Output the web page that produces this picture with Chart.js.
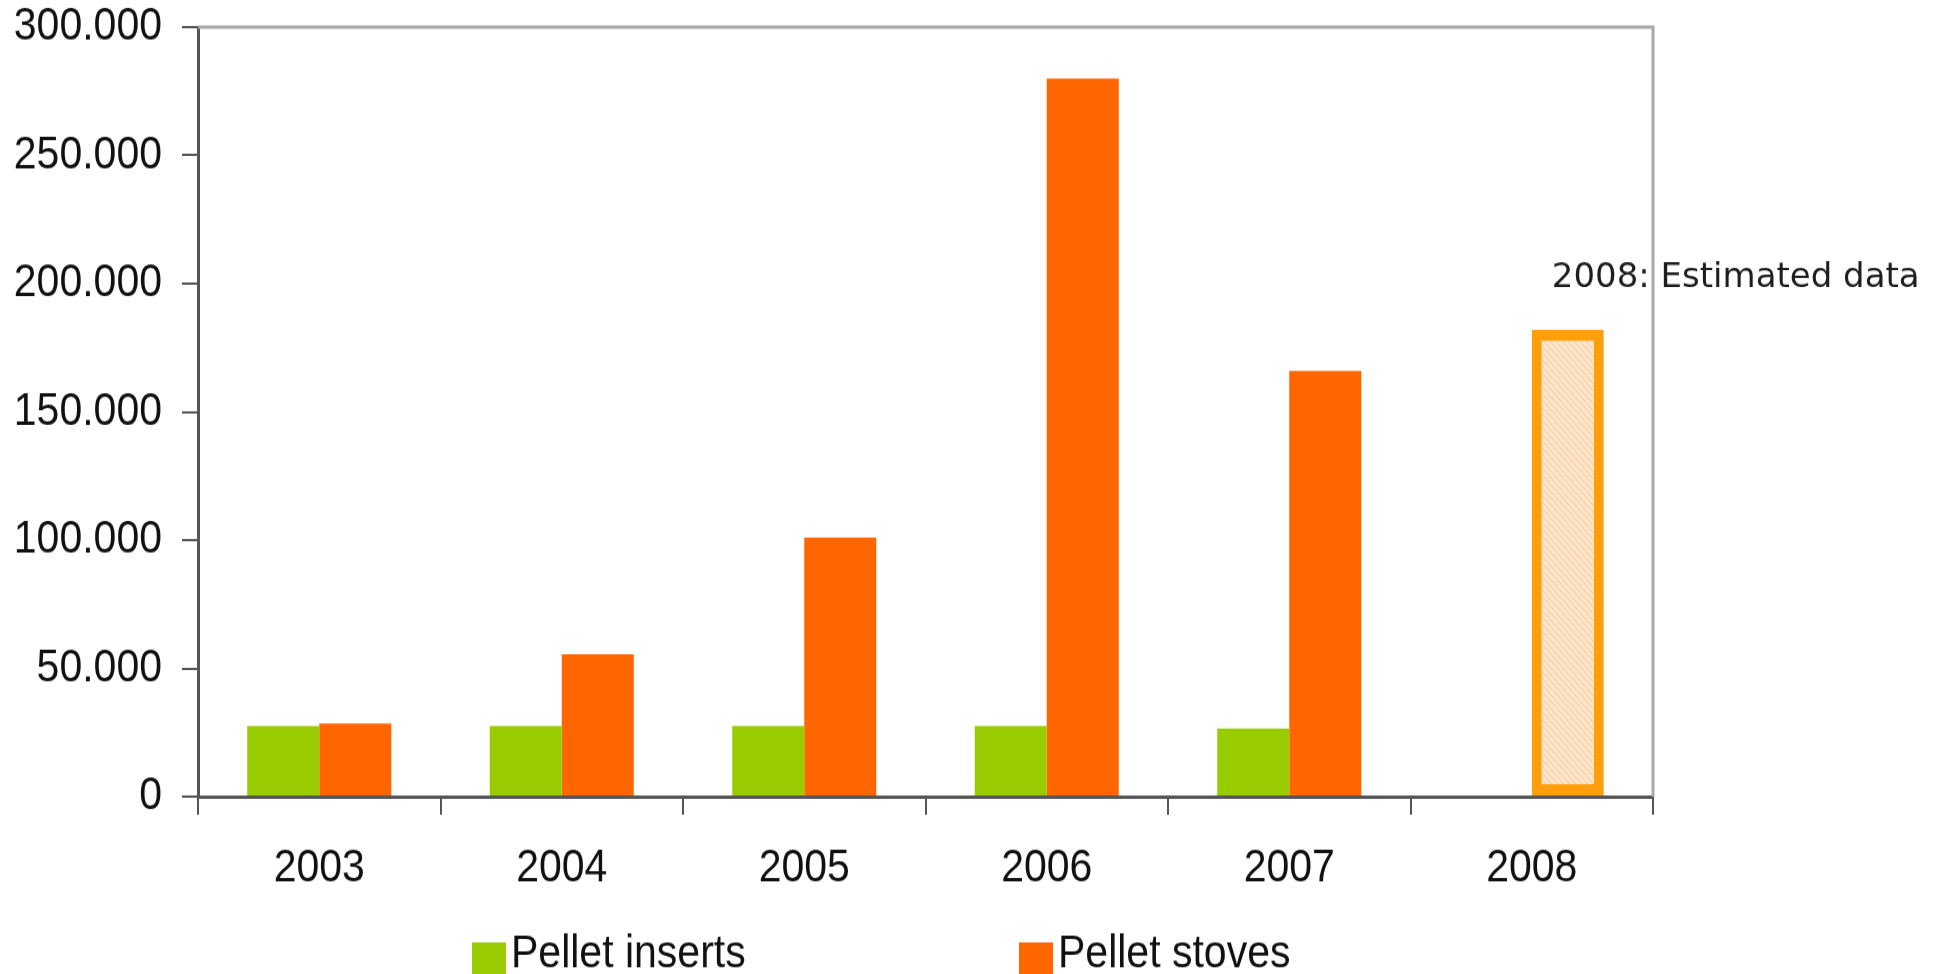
<!DOCTYPE html>
<html>
<head>
<meta charset="utf-8">
<title>Pellet inserts and pellet stoves, 2003–2008</title>
<script src="https://cdn.jsdelivr.net/npm/chart.js@4/dist/chart.umd.min.js"></script>
<style>
  html, body { margin: 0; padding: 0; background: #ffffff; }
  #frame { width: 1933px; height: 974px; overflow: hidden; position: relative; background: #ffffff; }
  /* the chart is drawn a little shorter and stretched to full height */
  #wrap { position: absolute; left: 0; top: 0; width: 1933px; height: 862px;
          transform: scaleY(1.12993); transform-origin: 0 0; }
  canvas { display: block; }
</style>
</head>
<body>
<div id="frame"><div id="wrap"><canvas id="chart" width="1933" height="862"></canvas></div></div>
<script>
// Years on the x axis
const categories = ['2003', '2004', '2005', '2006', '2007', '2008'];
// Units sold per year
const pelletInserts = [27500, 27500, 27500, 27500, 26500, null];
const pelletStoves = [28500, 55500, 101000, 280000, 166000, 182000];
// Value axis ticks
const yTickValues = [0, 50000, 100000, 150000, 200000, 250000, 300000];
// Series names and the note on the estimated year
const seriesNames = ['Pellet inserts', 'Pellet stoves'];
const estimatedNote = '2008: Estimated data';
const estimatedIndex = categories.indexOf('2008');

const STRETCH = 1.12993;
const GREEN = '#99cc00';
const ORANGE = '#ff6600';
const ESTIMATE_BORDER = '#ff9e0d';

// Light diagonal hatching for the estimated bar
function makeHatch() {
  const c = document.createElement('canvas');
  c.width = 6; c.height = 6;
  const g = c.getContext('2d');
  g.fillStyle = '#fde5c9';
  g.fillRect(0, 0, 6, 6);
  g.strokeStyle = '#f3c594';
  g.lineWidth = 1;
  g.beginPath();
  g.moveTo(-1, -1); g.lineTo(7, 7);
  g.moveTo(-1, 5); g.lineTo(1, 7);
  g.moveTo(5, -1); g.lineTo(7, 1);
  g.stroke();
  return g.createPattern(c, 'repeat');
}
const hatch = makeHatch();

const stoveFill = pelletStoves.map((v, i) => i === estimatedIndex ? hatch : ORANGE);
const stoveBorder = pelletStoves.map((v, i) => i === estimatedIndex ? ESTIMATE_BORDER : ORANGE);
const stoveBorderWidth = pelletStoves.map((v, i) => i === estimatedIndex ? 10 : 0);

function formatThousands(v) {
  return String(v).replace(/\B(?=(\d{3})+(?!\d))/g, '.');
}

const ARIAL = '"Liberation Sans", Arial, sans-serif';

// Frame on the top and right of the plot, the estimate note and the legend row
const decorations = {
  id: 'decorations',
  afterDraw(chart) {
    const { ctx, chartArea: a } = chart;
    ctx.save();
    ctx.strokeStyle = '#a9a9a9';
    ctx.lineWidth = 3;
    ctx.beginPath();
    ctx.moveTo(a.left, a.top);
    ctx.lineTo(a.right, a.top);
    ctx.lineTo(a.right, a.bottom);
    ctx.stroke();

    // note above the estimated bar, kept at its natural proportions
    const bar = chart.getDatasetMeta(1).data[estimatedIndex];
    if (bar) {
      ctx.save();
      ctx.translate(bar.x - 16, bar.y - 38);
      ctx.scale(1, 1 / STRETCH);
      ctx.fillStyle = '#1e1e1e';
      ctx.font = '34px "DejaVu Sans", Verdana, sans-serif';
      ctx.textAlign = 'left';
      ctx.textBaseline = 'alphabetic';
      ctx.fillText(estimatedNote, 0, 0);
      ctx.restore();
    }

    // legend
    const colors = [GREEN, ORANGE];
    const offsets = [274, 821];
    const box = 34;
    ctx.font = '41px ' + ARIAL;
    ctx.textBaseline = 'alphabetic';
    ctx.textAlign = 'left';
    seriesNames.forEach((name, i) => {
      const x = a.left + offsets[i];
      ctx.fillStyle = colors[i];
      ctx.fillRect(x, 834, box, box / STRETCH);
      ctx.fillStyle = '#111111';
      ctx.fillText(name, x + box + 5, 856);
    });
    ctx.restore();
  }
};

new Chart(document.getElementById('chart'), {
  type: 'bar',
  data: {
    labels: categories,
    datasets: [
      {
        label: seriesNames[0],
        data: pelletInserts,
        backgroundColor: GREEN,
        borderWidth: 0,
        categoryPercentage: 0.594,
        barPercentage: 1.0
      },
      {
        label: seriesNames[1],
        data: pelletStoves,
        backgroundColor: stoveFill,
        borderColor: stoveBorder,
        borderWidth: stoveBorderWidth,
        borderSkipped: false,
        categoryPercentage: 0.594,
        barPercentage: 1.0
      }
    ]
  },
  options: {
    responsive: false,
    animation: false,
    events: [],
    layout: { padding: { top: 24, right: 280, bottom: 0, left: 0 } },
    plugins: {
      legend: { display: false },
      tooltip: { enabled: false },
      title: { display: false }
    },
    scales: {
      x: {
        grid: {
          offset: true,
          drawOnChartArea: false,
          drawTicks: true,
          tickLength: 16,
          color: '#555555',
          lineWidth: 2
        },
        border: { display: true, color: '#555555', width: 3 },
        ticks: {
          color: '#111111',
          font: { family: ARIAL, size: 41 },
          padding: 23,
          maxRotation: 0
        },
        afterFit(scale) {
          scale.height = 157;
          scale.paddingLeft = 0;
          scale.paddingRight = 0;
        }
      },
      y: {
        min: 0,
        max: 300000,
        afterBuildTicks(scale) {
          scale.ticks = yTickValues.map(v => ({ value: v }));
        },
        grid: {
          drawOnChartArea: false,
          drawTicks: true,
          tickLength: 16,
          color: '#555555',
          lineWidth: 2
        },
        border: { display: true, color: '#555555', width: 3 },
        ticks: {
          color: '#111111',
          font: { family: ARIAL, size: 41 },
          padding: 20,
          callback: v => formatThousands(v)
        },
        afterFit(scale) {
          scale.width = 198;
          scale.paddingTop = 0;
          scale.paddingBottom = 0;
        }
      }
    }
  },
  plugins: [decorations]
});
</script>
</body>
</html>
